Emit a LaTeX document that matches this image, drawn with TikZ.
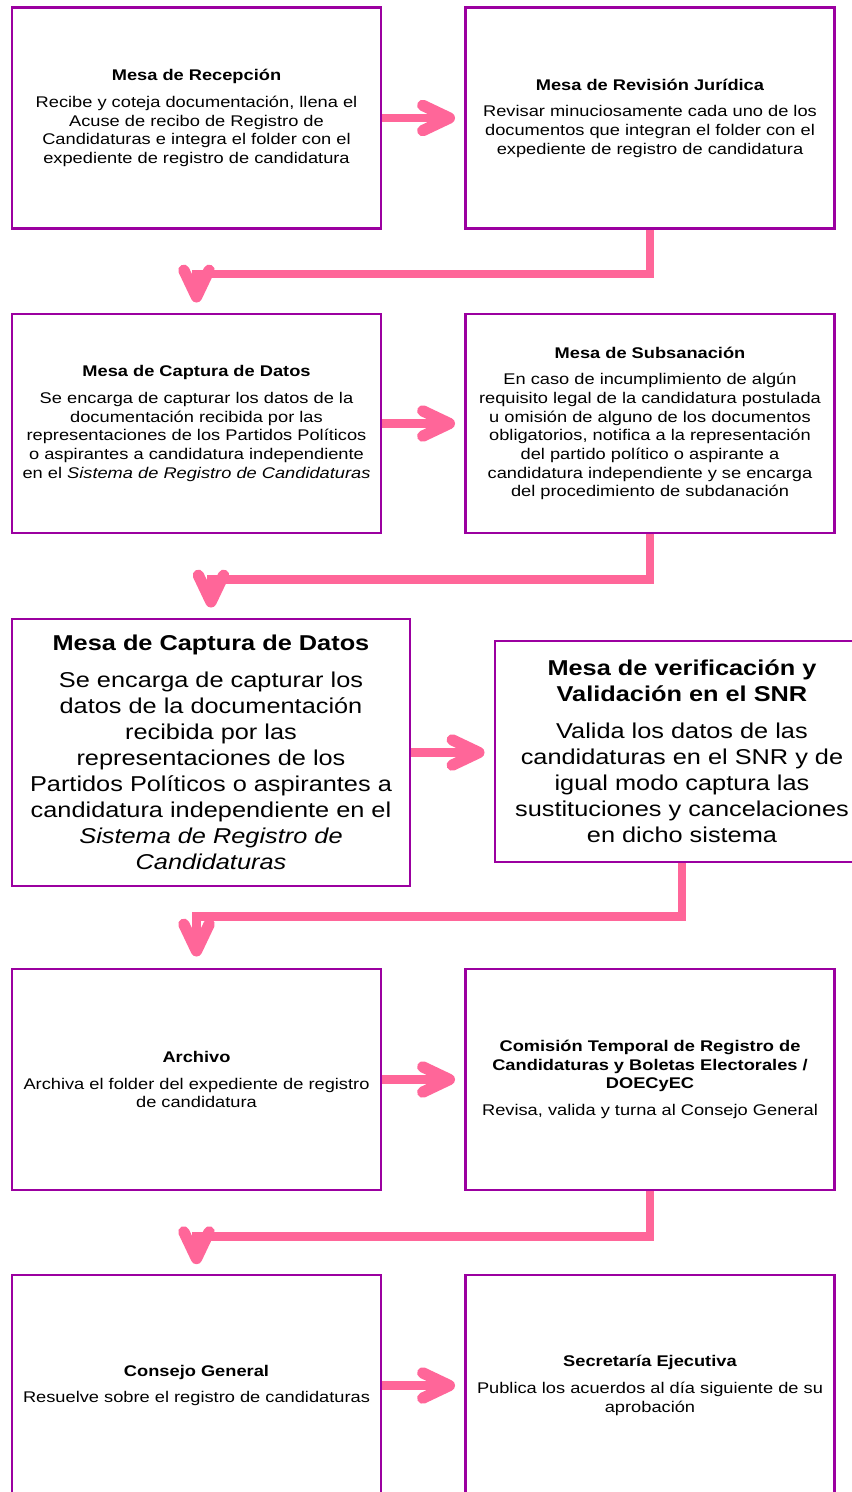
\documentclass[tikz,border=0pt]{standalone}
\usepackage{fontspec}
\setmainfont{Liberation Sans}[FakeStretch=1.18]
\usetikzlibrary{arrows.meta}
\definecolor{marco}{RGB}{155,0,160}
\definecolor{rosa}{RGB}{255,102,153}
\newcommand{\chico}{\fontsize{11.6pt}{14pt}\selectfont}
\newcommand{\grande}{\fontsize{16.1pt}{19.5pt}\selectfont}

\begin{document}
\begin{tikzpicture}[x=0.75pt,y=-0.75pt,
    caja/.style={draw=marco,line width=2.2pt,fill=white,align=center,inner sep=0pt,minimum width=#1},
    caja/.default=276.75pt,
    flujo/.style={draw=rosa,line width=6.3pt,-{Straight Barb[length=20pt,width=19pt,line width'=8.5pt,round]}}]
      \path[use as bounding box,fill=white] (0,0) rectangle (852,1492);
      \node[caja,minimum height=165.75pt,font=\chico] (rec) at (196.5,118) {\textbf{Mesa de Recepción}\\[6pt]Recibe y coteja documentación, llena el\\Acuse de recibo de Registro de\\Candidaturas e integra el folder con el\\expediente de registro de candidatura};
      \node[caja,minimum height=165.75pt,font=\chico] (rev) at (650,118) {\textbf{Mesa de Revisión Jurídica}\\[6pt]Revisar minuciosamente cada uno de los\\documentos que integran el folder con el\\expediente de registro de candidatura};
      \node[caja,minimum height=164.25pt,font=\chico] (cap) at (196.5,423.5) {\textbf{Mesa de Captura de Datos}\\[6pt]Se encarga de capturar los datos de la\\documentación recibida por las\\representaciones de los Partidos Políticos\\o aspirantes a candidatura independiente\\en el \textit{Sistema de Registro de Candidaturas}};
      \node[caja,minimum height=164.25pt,font=\chico] (sub) at (650,423.5) {\textbf{Mesa de Subsanación}\\[6pt]En caso de incumplimiento de algún\\requisito legal de la candidatura postulada\\u omisión de alguno de los documentos\\obligatorios, notifica a la representación\\del partido político o aspirante a\\candidatura independiente y se encarga\\del procedimiento de subdanación};
      \node[caja=298.5pt,minimum height=200.25pt,font=\grande] (capg) at (211,752.5) {\textbf{Mesa de Captura de Datos}\\[8pt]Se encarga de capturar los\\datos de la documentación\\recibida por las\\representaciones de los\\Partidos Políticos o aspirantes a\\candidatura independiente en el\\\textit{Sistema de Registro de}\\\textit{Candidaturas}};
      \node[caja=280.5pt,minimum height=165.75pt,font=\grande] (ver) at (682,751.5) {\textbf{Mesa de verificación y}\\\textbf{Validación en el SNR}\\[8pt]Valida los datos de las\\candidaturas en el SNR y de\\igual modo captura las\\sustituciones y cancelaciones\\en dicho sistema};
      \node[caja,minimum height=165.75pt,font=\chico] (arc) at (196.5,1079.5) {\textbf{Archivo}\\[6pt]Archiva el folder del expediente de registro\\de candidatura};
      \node[caja,minimum height=165.75pt,font=\chico] (com) at (650,1079.5) {\textbf{Comisión Temporal de Registro de}\\\textbf{Candidaturas y Boletas Electorales /}\\\textbf{DOECyEC}\\[6pt]Revisa, valida y turna al Consejo General};
      \node[caja,minimum height=165.75pt,font=\chico] (con) at (196.5,1385.5) {\textbf{Consejo General}\\[6pt]Resuelve sobre el registro de candidaturas};
      \node[caja,minimum height=165.75pt,font=\chico] (sec) at (650,1385.5) {\textbf{Secretaría Ejecutiva}\\[6pt]Publica los acuerdos al día siguiente de su\\aprobación};
      \draw[flujo,shorten >=6.75pt] (rec.east) -- (rev.west);
      \draw[flujo,shorten >=6.75pt] (cap.east) -- (sub.west);
      \draw[flujo,shorten >=6.75pt] (capg.east) -- (capg.east -| ver.west);
      \draw[flujo,shorten >=6.75pt] (arc.east) -- (com.west);
      \draw[flujo,shorten >=6.75pt] (con.east) -- (sec.west);
      \draw[flujo,shorten >=7.5pt] (rev.south) -- ++(0,44) -| (cap.north);
      \draw[flujo,shorten >=7.5pt] (sub.south) -- ++(0,45) -| (capg.north);
      \draw[flujo,shorten >=8.25pt] (ver.south) -- ++(0,53) -| (arc.north);
      \draw[flujo,shorten >=7pt] (com.south) -- ++(0,45) -| (con.north);
    \end{tikzpicture}
\end{document}
